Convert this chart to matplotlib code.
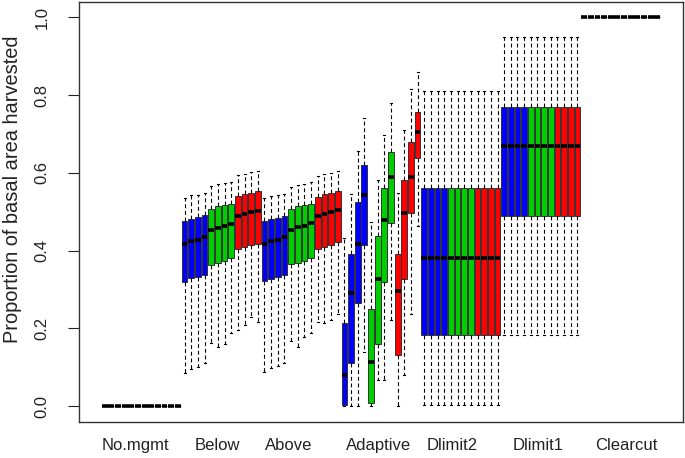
import matplotlib
matplotlib.use("Agg")
import matplotlib.pyplot as plt
import numpy as np

plt.rcParams['font.family'] = ['Liberation Sans', 'DejaVu Sans']

groups = ["No.mgmt", "Below", "Above", "Adaptive", "Dlimit2", "Dlimit1", "Clearcut"]
colours = ["#0000FF"] * 4 + ["#00CD00"] * 4 + ["#FF0000"] * 4

# each group: rows = lower whisker, q1, median, q3, upper whisker (12 boxes)
nomgmt = [[0.0] * 12] * 5

below = [
    [0.086, 0.095, 0.101, 0.110, 0.163, 0.152, 0.160, 0.187, 0.197, 0.208, 0.230, 0.217],
    [0.318, 0.330, 0.332, 0.337, 0.362, 0.369, 0.374, 0.380, 0.403, 0.408, 0.414, 0.418],
    [0.416, 0.424, 0.428, 0.434, 0.454, 0.459, 0.464, 0.468, 0.488, 0.495, 0.499, 0.503],
    [0.476, 0.482, 0.486, 0.491, 0.508, 0.514, 0.518, 0.521, 0.540, 0.546, 0.549, 0.553],
    [0.536, 0.542, 0.544, 0.549, 0.566, 0.571, 0.575, 0.577, 0.594, 0.598, 0.601, 0.604],
]

above = [
    [0.088, 0.097, 0.103, 0.110, 0.168, 0.152, 0.178, 0.187, 0.217, 0.213, 0.221, 0.238],
    [0.321, 0.326, 0.332, 0.336, 0.365, 0.369, 0.374, 0.380, 0.404, 0.410, 0.414, 0.421],
    [0.416, 0.424, 0.428, 0.434, 0.454, 0.461, 0.464, 0.470, 0.489, 0.495, 0.499, 0.504],
    [0.476, 0.482, 0.485, 0.490, 0.508, 0.514, 0.518, 0.521, 0.539, 0.545, 0.548, 0.552],
    [0.534, 0.540, 0.544, 0.546, 0.564, 0.569, 0.571, 0.577, 0.592, 0.596, 0.600, 0.605],
]

adaptive = [
    [0.000, 0.000, 0.000, 0.140, 0.000, 0.067, 0.067, 0.221, 0.000, 0.080, 0.238, 0.463],
    [0.003, 0.111, 0.264, 0.414, 0.009, 0.161, 0.318, 0.470, 0.131, 0.326, 0.497, 0.638],
    [0.080, 0.290, 0.418, 0.543, 0.114, 0.326, 0.478, 0.588, 0.296, 0.497, 0.588, 0.705],
    [0.213, 0.392, 0.524, 0.619, 0.251, 0.437, 0.562, 0.653, 0.392, 0.581, 0.679, 0.757],
    [0.433, 0.545, 0.656, 0.741, 0.474, 0.581, 0.697, 0.780, 0.548, 0.709, 0.815, 0.859],
]

dlimit2 = [[0.003] * 12, [0.184] * 12, [0.382] * 12, [0.560] * 12, [0.810] * 12]
dlimit1 = [[0.184] * 12, [0.488] * 12, [0.668] * 12, [0.769] * 12, [0.949] * 12]
clearcut = [[1.0] * 12] * 5

label_at = [5.6, 17.9, 28.6, 42.2, 53.2, 66.1, 79.3]

stats = []
facecols = []
for g in [nomgmt, below, above, adaptive, dlimit2, dlimit1, clearcut]:
    for i in range(12):
        stats.append(dict(whislo=g[0][i], q1=g[1][i], med=g[2][i], q3=g[3][i], whishi=g[4][i]))
        facecols.append(colours[i])

fig = plt.figure(figsize=(6.85, 4.58), dpi=100)
ax = fig.add_axes([79 / 685, 1 - 421.7 / 458, 604 / 685, 420 / 458])

pos = np.arange(1, len(stats) + 1)
bp = ax.bxp(stats, positions=pos, widths=0.86, patch_artist=True, showfliers=False,
            capwidths=0.3,
            boxprops=dict(edgecolor='#333333', linewidth=0.7),
            medianprops=dict(color='black', linewidth=2.6, solid_capstyle='butt'),
            whiskerprops=dict(color='black', linewidth=0.8, linestyle=(0, (3.5, 2.5))),
            capprops=dict(color='black', linewidth=0.8))
for patch, c in zip(bp['boxes'], facecols):
    patch.set_facecolor(c)

ax.set_xlim(-2.86, 87.86)
ax.set_ylim(-0.04, 1.04)
ax.set_xticks(label_at)
ax.set_xticklabels(groups, fontsize=12)
ax.tick_params(axis='x', length=0, pad=12, colors='#222222')
ax.set_yticks([0.0, 0.2, 0.4, 0.6, 0.8, 1.0])
ax.set_yticklabels(["0.0", "0.2", "0.4", "0.6", "0.8", "1.0"], rotation=90, va='center', fontsize=12)
ax.tick_params(axis='y', direction='out', length=8, width=0.8, pad=13, colors='#222222')
ax.set_ylabel("Proportion of basal area harvested", fontsize=14.4, color='#222222')
ax.yaxis.set_label_coords(-0.095, 0.554)
for s in ax.spines.values():
    s.set_color('#333333')
    s.set_linewidth(1.0)

fig.savefig("out.png", dpi=100)
